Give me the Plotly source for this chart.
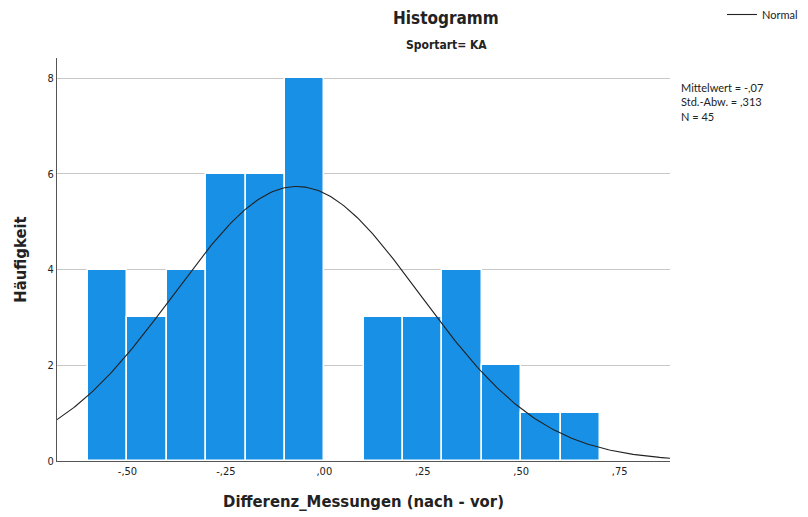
import numpy as np
import plotly.graph_objects as go

# Data
bin_centers = [-0.55, -0.45, -0.35, -0.25, -0.15, -0.05, 0.05, 0.15, 0.25, 0.35, 0.45, 0.55, 0.65]
counts = [4, 3, 4, 6, 6, 8, 0, 3, 3, 4, 2, 1, 1]
bin_width = 0.1
mean = -0.07
sd = 0.313
n = 45
x_tickvals = [-0.5, -0.25, 0.0, 0.25, 0.5, 0.75]
x_ticktext = ["-,50", "-,25", ",00", ",25", ",50", ",75"]
y_tickvals = [0, 2, 4, 6, 8]

x_range = [-0.679, 0.878]
y_range = [0, 8.42]

xs = np.linspace(x_range[0], x_range[1], 300)
ys = n * bin_width / (sd * np.sqrt(2 * np.pi)) * np.exp(-0.5 * ((xs - mean) / sd) ** 2)

FONT = "Liberation Sans Narrow, DejaVu Sans Condensed, Arial, sans-serif"

fig = go.Figure()
fig.add_trace(go.Bar(
    x=bin_centers, y=counts, width=bin_width,
    marker=dict(color="#1790e6", line=dict(color="white", width=1.5)),
    showlegend=False, hoverinfo="x+y",
))
fig.add_trace(go.Scatter(
    x=xs, y=ys, mode="lines", name="Normal",
    line=dict(color="#222222", width=1.1),
))

fig.update_layout(
    width=808, height=517,
    margin=dict(l=57, r=138, t=58, b=56, autoexpand=False),
    paper_bgcolor="white", plot_bgcolor="white",
    font=dict(family=FONT, color="#222222", size=11),
    bargap=0,
    showlegend=True,
    legend=dict(x=722 / 808, xanchor="left", xref="container", y=1.0, yanchor="top", yref="container",
                bgcolor="rgba(0,0,0,0)", font=dict(size=11, family="Lato, sans-serif"),
                itemwidth=30),
    xaxis=dict(range=x_range, tickvals=x_tickvals, ticktext=x_ticktext, automargin=False,
               showgrid=False, zeroline=False, showline=True, linecolor="#555555", linewidth=1,
               ticks="", tickfont=dict(size=11, color="#222222"),
               title=dict(text="<b>Differenz_Messungen (nach - vor)</b>", font=dict(size=16.5), standoff=18)),
    yaxis=dict(range=y_range, tickvals=y_tickvals, automargin=False,
               showgrid=True, gridcolor="#c8c8c8", gridwidth=1, zeroline=False,
               showline=True, linecolor="#555555", linewidth=1,
               ticks="", tickfont=dict(size=11, color="#222222"),
               title=dict(text="<b>Häufigkeit</b>", font=dict(size=16.5), standoff=16)),
    annotations=[
        dict(text="<b>Histogramm</b>", xref="paper", yref="paper", x=(446 - 57) / 613, y=1 + (58 - 18) / 403,
             showarrow=False, font=dict(size=17), xanchor="center", yanchor="middle"),
        dict(text="<b>Sportart= KA</b>", xref="paper", yref="paper", x=(446 - 57) / 613, y=1 + (58 - 45) / 403,
             showarrow=False, font=dict(size=12), xanchor="center", yanchor="middle"),
        dict(text="Mittelwert = -,07<br>Std.-Abw. = ,313<br>N = 45", xref="paper", yref="paper",
             x=(679 - 57) / 613, y=1 - (79 - 58) / 403, xanchor="left", yanchor="top", align="left",
             showarrow=False, font=dict(size=11, family="Lato, sans-serif")),
    ],
)

fig.write_html("out.html", config={"displayModeBar": False},
               post_script="document.body.style.margin='0';")
